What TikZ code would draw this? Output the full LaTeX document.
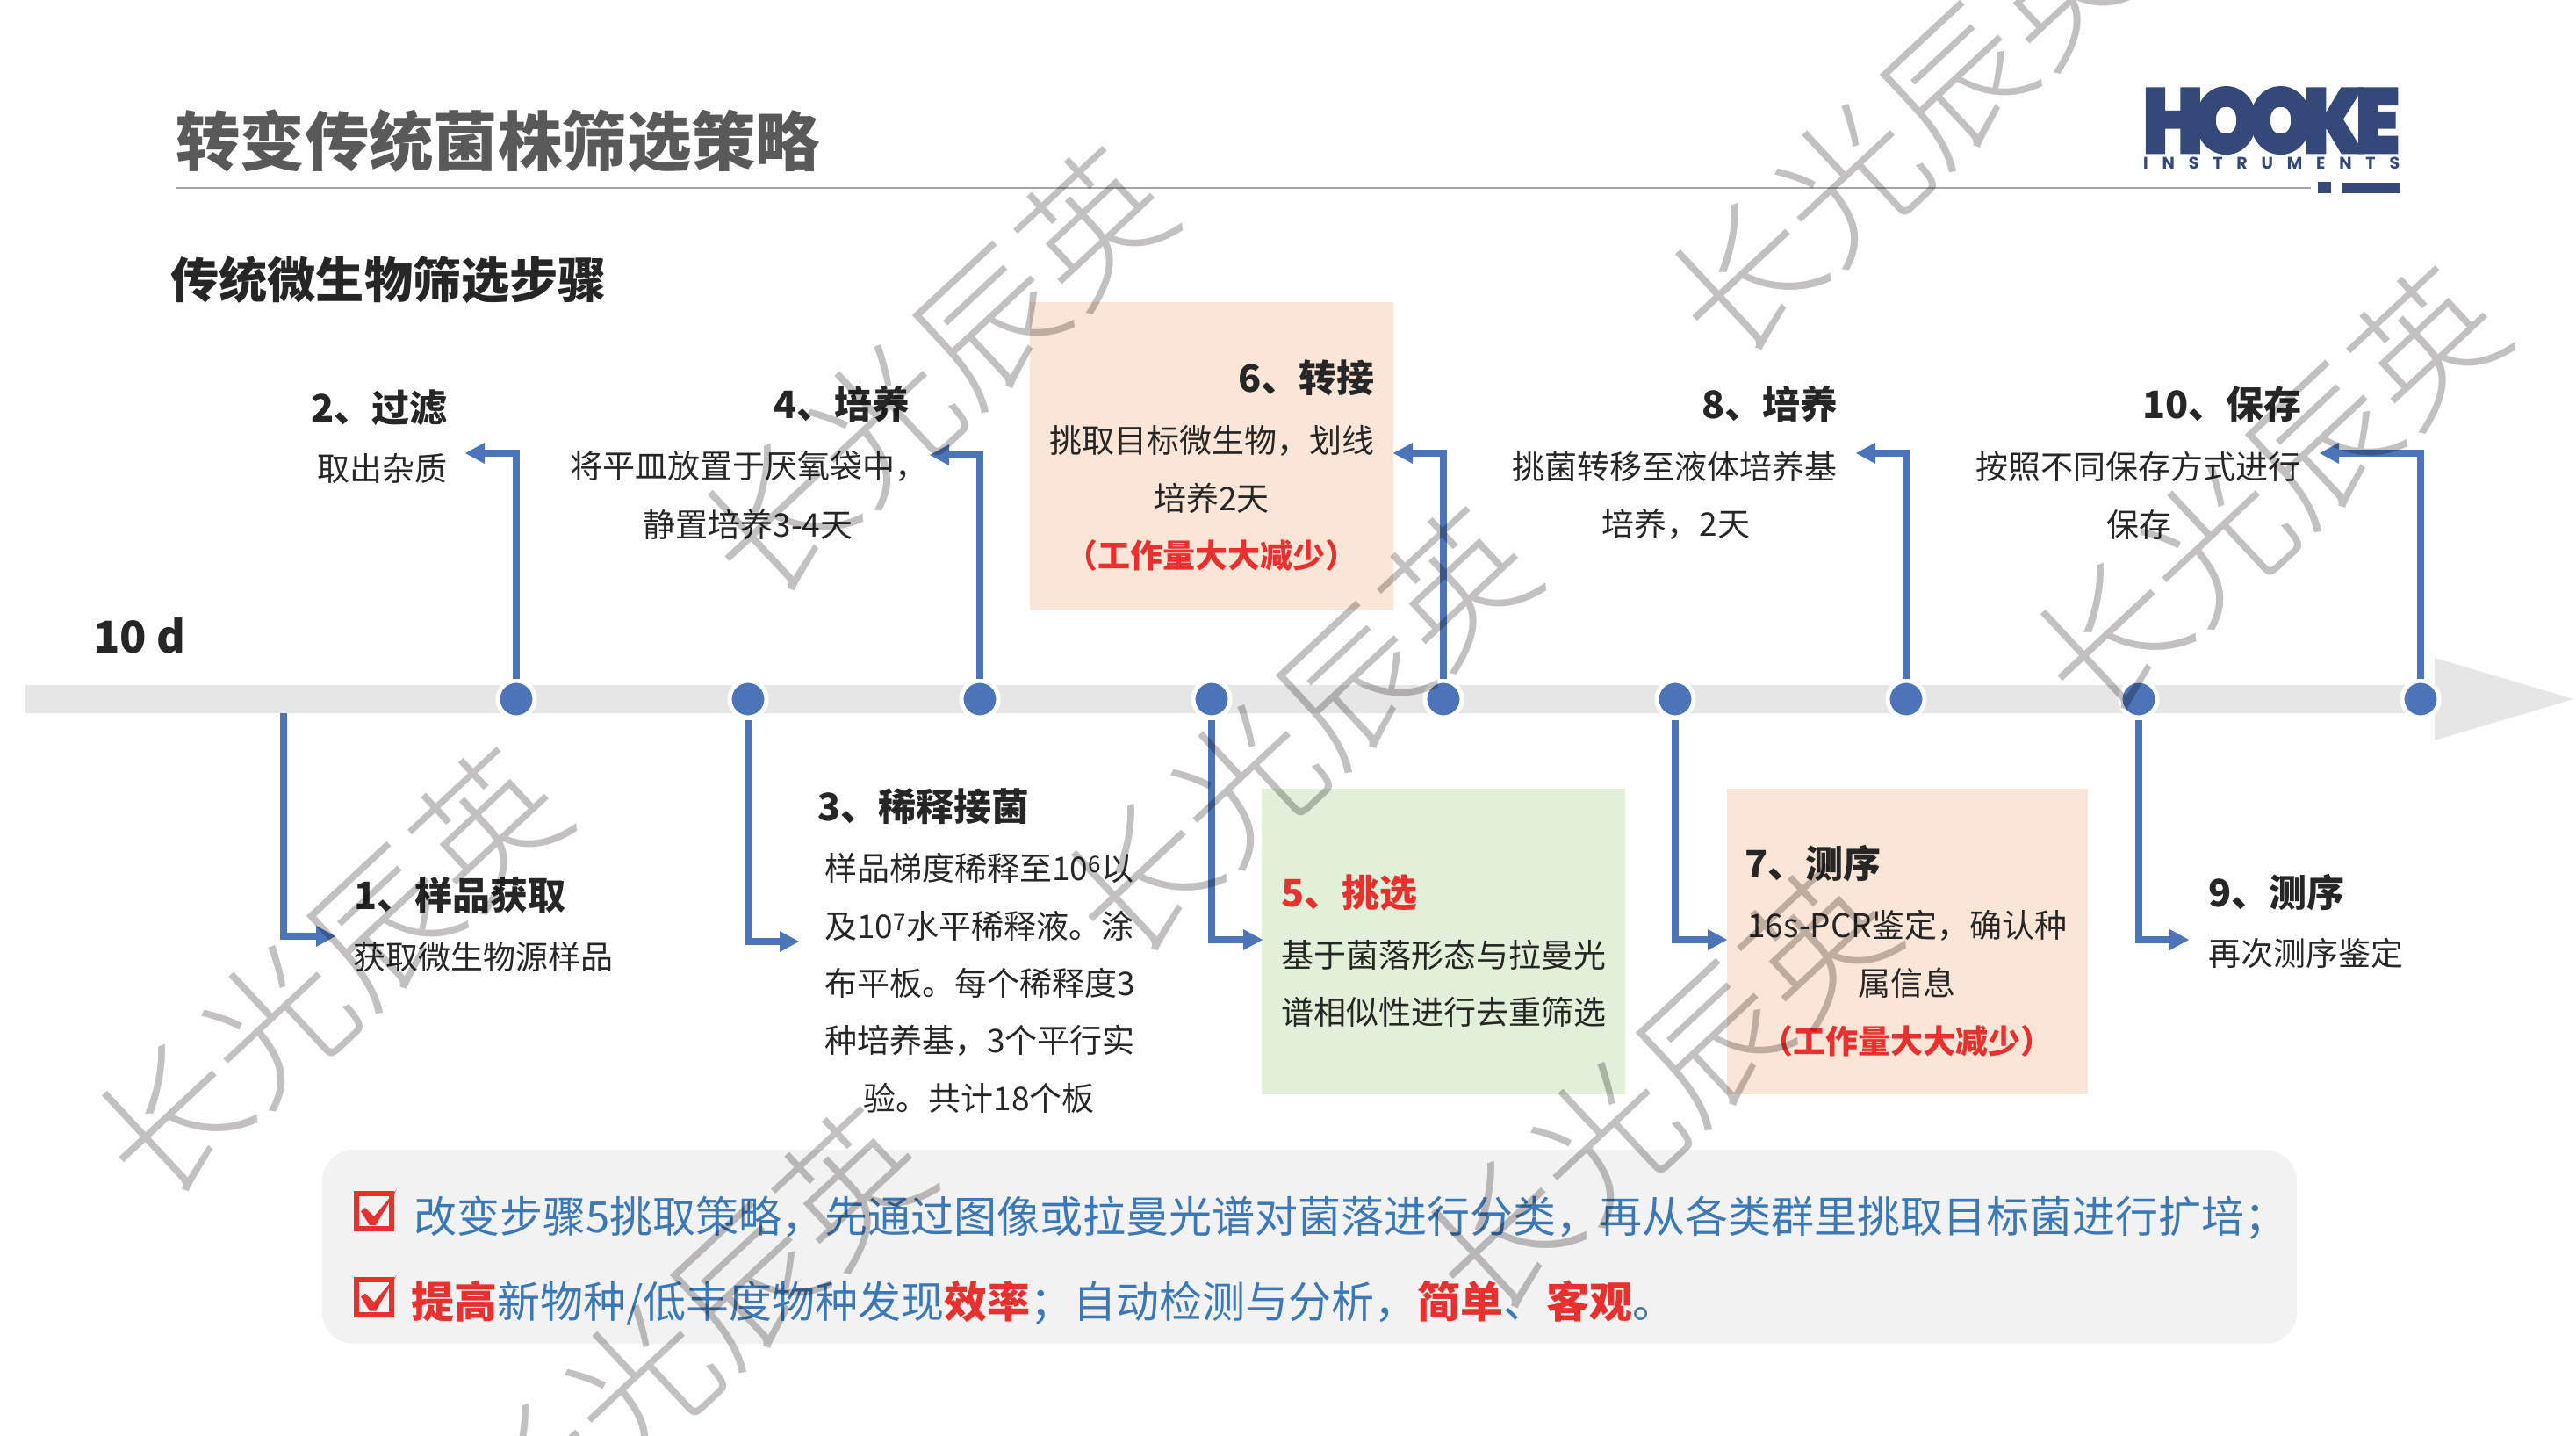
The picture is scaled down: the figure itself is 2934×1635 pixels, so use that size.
\documentclass[tikz,border=0pt]{standalone}
\usepackage{fontspec}
\usepackage{graphicx}
\setmainfont{Noto Sans CJK SC}
\IfFontExistsTF{Noto Sans CJK SC Light}{\newfontfamily\wmfont{Noto Sans CJK SC Light}}{\newfontfamily\wmfont{Noto Sans CJK SC}}
\IfFontExistsTF{Poppins Black}{\newfontfamily\logofont[FakeBold=2.2]{Poppins Black}}{\newfontfamily\logofont[FakeBold=3]{Poppins}}
\newfontfamily\logosmall{Poppins}
\definecolor{bandc}{HTML}{E7E6E6}
\definecolor{bluec}{HTML}{4C74B9}
\definecolor{peach}{HTML}{FBE5D6}
\definecolor{greenc}{HTML}{E2F0D9}
\definecolor{panelc}{HTML}{F2F2F2}
\definecolor{redc}{HTML}{E8302F}
\definecolor{txtblue}{HTML}{3B78B8}
\definecolor{logoc}{HTML}{34497A}
\definecolor{wmc}{HTML}{C2C0C0}
\definecolor{txtc}{HTML}{262626}
\newcommand{\fs}[1]{\fontsize{#1}{#1}\selectfont}
\newcommand{\rb}[1]{\textcolor{redc}{\textbf{#1}}}
\tikzset{
 dot/.style={circle,fill=bluec,draw=white,line width=5pt,minimum size=42pt,inner sep=0pt},
 conn/.style={draw=bluec,line width=8pt},
 tipl/.style={fill=bluec,draw=none},
 body/.style={inner sep=0pt,text=txtc,font=\fs{37}},
 head/.style={inner sep=0pt,text=txtc,font=\fs{43}\bfseries},
 redt/.style={inner sep=0pt,text=redc,font=\fs{37}\bfseries},
 wm/.style={inner sep=0pt,text=wmc,font=\fs{164}\wmfont,rotate=43},
 chk/.style={draw=redc,line width=6pt},
 chkm/.style={fill=redc,draw=none}
}
\begin{document}
\begin{tikzpicture}[x=1pt,y=-1pt]
\useasboundingbox (0,0) rectangle (2934,1635);
\fill[white] (0,0) rectangle (2934,1635);
% title
\node[inner sep=0pt,anchor=west,text=black!65,font=\fs{73.4}\bfseries] (title) at (200,161) {转变传统菌株筛选策略};
\draw[black!35,line width=2.5pt] (200,214) -- (2632,214);
\node[inner sep=0pt,anchor=west,text=txtc,font=\fs{55.2}\bfseries] (sub) at (194,319) {传统微生物筛选步骤};
\node[inner sep=0pt,anchor=west,text=txtc,font=\fs{50}\bfseries] (dur) at (106,724) {10 d};
% logo
\node[inner sep=0pt,anchor=north west,text=logoc] (logo) at (2440,99) {\resizebox{293pt}{75pt}{\logofont\addfontfeature{LetterSpace=-11}HOOKE}};
\node[inner sep=0pt,anchor=north west,text=logoc,font=\fs{19}\logosmall\bfseries] (instr) at (2441,179) {\makebox[292pt][s]{I\hfill N\hfill S\hfill T\hfill R\hfill U\hfill M\hfill E\hfill N\hfill T\hfill S}};
\fill[logoc] (2640,207) rectangle (2655,220);
\fill[logoc] (2667,208) rectangle (2734,220);
% boxes
\fill[peach] (1173,344) rectangle (1587,694);
\fill[greenc] (1437,898) rectangle (1851,1246);
\fill[peach] (1967,898) rectangle (2378,1246);
\fill[panelc,rounded corners=36pt] (367,1309) rectangle (2616,1530);
% band
\fill[bandc] (29,780) -- (2773,780) -- (2773,749) -- (2931,796) -- (2773,843) -- (2773,812) -- (29,812) -- cycle;
% dots
\foreach \n/\x in {c2/588,c3/852,c4/1116,c5/1380,c6/1644,c7/1908,c8/2171,c9/2436,c10/2757}
  \node[dot] (\n) at (\x,796) {};
% free ends
\coordinate (s1) at (323,812);
\coordinate (t1) at (360,1066);
\coordinate (t2) at (552,516);
\coordinate (t3) at (888,1072);
\coordinate (t4) at (1081,518);
\coordinate (t5) at (1416,1070);
\coordinate (t6) at (1609,516);
\coordinate (t7) at (1945,1070);
\coordinate (t8) at (2136,516);
\coordinate (t9) at (2471,1070);
\coordinate (t10) at (2664,516);
% connectors
\draw[conn] (s1) |- (t1);
\draw[conn] (c2) |- (t2);
\draw[conn] (c3) |- (t3);
\draw[conn] (c4) |- (t4);
\draw[conn] (c5) |- (t5);
\draw[conn] (c6) |- (t6);
\draw[conn] (c7) |- (t7);
\draw[conn] (c8) |- (t8);
\draw[conn] (c9) |- (t9);
\draw[conn] (c10) |- (t10);
\fill[tipl] (t1)++(0,-12) -- ++(22,12) -- ++(-22,12) -- cycle;
\fill[tipl] (t3)++(0,-12) -- ++(22,12) -- ++(-22,12) -- cycle;
\fill[tipl] (t5)++(0,-12) -- ++(22,12) -- ++(-22,12) -- cycle;
\fill[tipl] (t7)++(0,-12) -- ++(22,12) -- ++(-22,12) -- cycle;
\fill[tipl] (t9)++(0,-12) -- ++(22,12) -- ++(-22,12) -- cycle;
\fill[tipl] (t2)++(0,-12) -- ++(-22,12) -- ++(22,12) -- cycle;
\fill[tipl] (t4)++(0,-12) -- ++(-22,12) -- ++(22,12) -- cycle;
\fill[tipl] (t6)++(0,-12) -- ++(-22,12) -- ++(22,12) -- cycle;
\fill[tipl] (t8)++(0,-12) -- ++(-22,12) -- ++(22,12) -- cycle;
\fill[tipl] (t10)++(0,-12) -- ++(-22,12) -- ++(22,12) -- cycle;
% top labels
\node[head,anchor=east] (h2) at (510,464) {2、过滤};
\node[body,anchor=east] (b2) at (510,533) {取出杂质};
\node[head,anchor=east] (h4) at (1037,460) {4、培养};
\node[body,anchor=west] (b4a) at (649,531) {将平皿放置于厌氧袋中，};
\node[body] (b4b) at (852,597) {静置培养3-4天};
\node[head,anchor=east] (h6) at (1566,430) {6、转接};
\node[body,anchor=east] (b6a) at (1566,502) {挑取目标微生物，划线};
\node[body] (b6b) at (1380,567) {培养2天};
\node[redt] (b6c) at (1380,632) {（工作量大大减少）};
\node[head,anchor=east] (h8) at (2094,460) {8、培养};
\node[body,anchor=east] (b8a) at (2093,531) {挑菌转移至液体培养基};
\node[body] (b8b) at (1909,597) {培养，2天};
\node[head,anchor=east] (h10) at (2622,460) {10、保存};
\node[body,anchor=east] (b10a) at (2621,531) {按照不同保存方式进行};
\node[body] (b10b) at (2436,597) {保存};
% bottom labels
\node[head,anchor=west] (h1) at (403,1019) {1、样品获取};
\node[body,anchor=west] (b1) at (402,1089) {获取微生物源样品};
\node[head,anchor=west] (h3) at (931,918) {3、稀释接菌};
\node[body,anchor=west] (b3a) at (939,988) {样品梯度稀释至10\textsuperscript{6}以};
\node[body,anchor=west] (b3b) at (939,1054) {及10\textsuperscript{7}水平稀释液。涂};
\node[body,anchor=west] (b3c) at (939,1119) {布平板。每个稀释度3};
\node[body,anchor=west] (b3d) at (939,1185) {种培养基，3个平行实};
\node[body] (b3e) at (1115,1250) {验。共计18个板};
\node[anchor=west,inner sep=0pt,text=redc,font=\fs{43}\bfseries] (h5) at (1459,1017) {5、挑选};
\node[body,anchor=west] (b5a) at (1459,1087) {基于菌落形态与拉曼光};
\node[body,anchor=west] (b5b) at (1459,1152) {谱相似性进行去重筛选};
\node[head,anchor=west] (h7) at (1987,983) {7、测序};
\node[body,anchor=west] (b7a) at (1990,1054) {16s-PCR鉴定，确认种};
\node[body] (b7b) at (2172,1119) {属信息};
\node[redt] (b7c) at (2172,1185) {（工作量大大减少）};
\node[head,anchor=west] (h9) at (2515,1016) {9、测序};
\node[body,anchor=west] (b9) at (2515,1085) {再次测序鉴定};
% panel text
\foreach \y in {1359,1456.5}{
 \draw[chk] (406,\y) rectangle (446,\y+40);
 \fill[chkm] (411,\y+20) -- (416,\y+16) -- (426,\y+26) -- (452,\y-5) -- (428,\y+36) -- (421,\y+36) -- cycle;
}
\node[inner sep=0pt,anchor=west,text=txtblue,font=\fs{49}] (l1) at (471,1387) {改变步骤5挑取策略，先通过图像或拉曼光谱对菌落进行分类，再从各类群里挑取目标菌进行扩培；};
\node[inner sep=0pt,anchor=west,text=txtblue,font=\fs{49}] (l2) at (468,1484) {\rb{提高}新物种/低丰度物种发现\rb{效率}；自动检测与分析，\rb{简单}、\rb{客观}。};
% watermark
\begin{scope}[blend mode=multiply]
\node[wm] (wa) at (375,1108) {长光辰英};
\node[wm] (wb) at (1065,424) {长光辰英};
\node[wm] (wc) at (2167,150) {长光辰英};
\node[wm] (wd) at (1479,834) {长光辰英};
\node[wm] (we) at (2583,560) {长光辰英};
\node[wm] (wf) at (1889,1241) {长光辰英};
\node[wm] (wg) at (789,1517) {长光辰英};
\end{scope}
\end{tikzpicture}
\end{document}
